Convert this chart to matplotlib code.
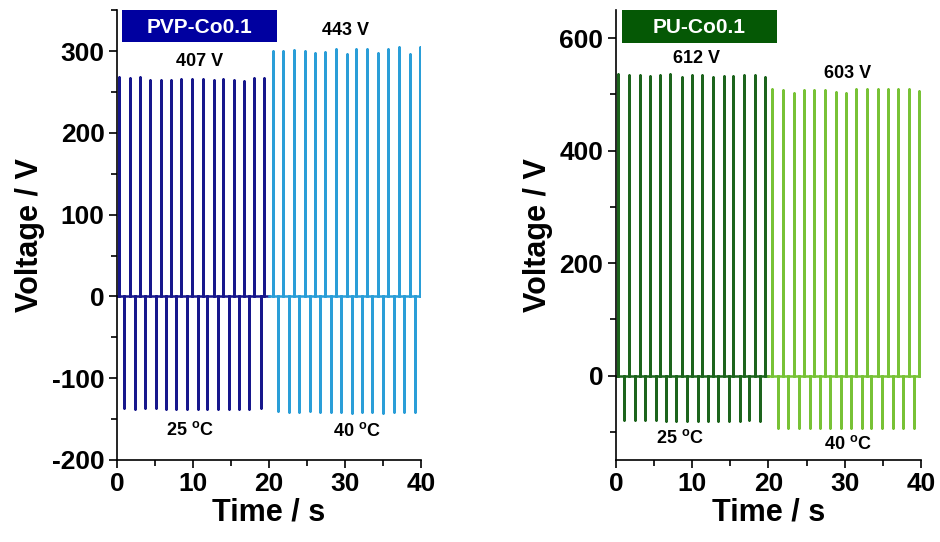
import numpy as np
import matplotlib.pyplot as plt
from matplotlib.patches import Rectangle
from matplotlib.ticker import MultipleLocator

plt.rcParams['font.family'] = ['Liberation Sans', 'DejaVu Sans']
plt.rcParams['font.weight'] = 'bold'
plt.rcParams['mathtext.fontset'] = 'custom'
plt.rcParams['mathtext.rm'] = 'Liberation Sans:bold'
plt.rcParams['mathtext.default'] = 'rm'
plt.rcParams['axes.unicode_minus'] = False

# ---- PVP-Co0.1 (left) ----
pvp25_pos_t = [0.3, 1.7, 3.0, 4.4, 5.75, 7.1, 8.4, 9.9, 11.3, 12.7, 14.0, 15.4, 16.7, 18.0, 19.4]
pvp25_pos_v = [268, 267, 268, 265, 265, 265, 266, 266, 266, 264, 266, 264, 263, 267, 267]
pvp25_neg_t = [0.9, 2.4, 3.7, 5.1, 6.4, 7.8, 9.2, 10.6, 11.9, 13.3, 14.7, 16.1, 17.4, 18.9]
pvp25_neg_v = [-137, -138, -137, -137, -138, -138, -138, -138, -138, -138, -138, -138, -138, -136]

pvp40_pos_t = [20.5, 21.9, 23.3, 24.7, 26.1, 27.4, 28.8, 30.2, 31.5, 32.9, 34.3, 35.7, 37.1, 38.5, 39.9]
pvp40_pos_v = [300, 300, 301, 300, 297, 299, 302, 296, 302, 303, 297, 302, 305, 296, 305]
pvp40_neg_t = [21.2, 22.6, 24.0, 25.4, 26.7, 28.1, 29.5, 30.9, 32.2, 33.6, 35.0, 36.4, 37.8, 39.2]
pvp40_neg_v = [-140, -141, -141, -140, -141, -141, -141, -142, -141, -141, -142, -141, -141, -141]

# ---- PU-Co0.1 (right) ----
pu25_pos_t = [0.3, 1.7, 3.1, 4.5, 5.8, 7.1, 8.6, 10.0, 11.3, 12.7, 14.1, 15.4, 16.8, 18.2, 19.6]
pu25_pos_v = [536, 535, 534, 532, 535, 536, 531, 534, 534, 531, 533, 533, 535, 534, 531]
pu25_neg_t = [1.1, 2.5, 3.8, 5.2, 6.5, 7.9, 9.3, 10.7, 12.1, 13.4, 14.8, 16.2, 17.5, 18.9]
pu25_neg_v = [-78, -79, -79, -79, -80, -80, -80, -81, -81, -80, -80, -80, -79, -80]

pu40_pos_t = [20.5, 21.9, 23.3, 24.7, 26.0, 27.4, 28.8, 30.2, 31.5, 32.9, 34.3, 35.7, 37.0, 38.4, 39.8]
pu40_pos_v = [509, 508, 503, 508, 508, 508, 504, 503, 509, 509, 509, 509, 509, 509, 507]
pu40_neg_t = [21.2, 22.6, 24.0, 25.4, 26.7, 28.1, 29.5, 30.8, 32.2, 33.5, 34.9, 36.3, 37.7, 39.1]
pu40_neg_v = [-93, -93, -93, -93, -93, -93, -93, -93, -93, -93, -93, -93, -93, -93]


def waveform(t0, t1, pos_t, pos_v, neg_t, neg_v):
    # zero baseline with vertical spikes at the read-off times
    events = sorted(list(zip(pos_t, pos_v)) + list(zip(neg_t, neg_v)))
    t, v = [t0], [0]
    for ti, vi in events:
        t += [ti, ti, ti]
        v += [0, vi, 0]
    t.append(t1)
    v.append(0)
    return np.array(t), np.array(v)


fig = plt.figure(figsize=(9.4, 5.42), dpi=100)
ax1 = fig.add_axes([0.1245, 0.1513, 0.3234, 0.830])
ax2 = fig.add_axes([0.6553, 0.1513, 0.3245, 0.830])


def style(ax, ymin, ymax, ymaj, ymin_step):
    ax.set_xlim(0, 40)
    ax.set_ylim(ymin, ymax)
    ax.spines['top'].set_visible(False)
    ax.spines['right'].set_visible(False)
    for s in ('left', 'bottom'):
        ax.spines[s].set_linewidth(1.2)
    ax.xaxis.set_major_locator(MultipleLocator(10))
    ax.xaxis.set_minor_locator(MultipleLocator(5))
    ax.yaxis.set_major_locator(MultipleLocator(ymaj))
    ax.yaxis.set_minor_locator(MultipleLocator(ymin_step))
    ax.tick_params(which='major', direction='out', length=6, width=1.2, labelsize=19, pad=3)
    ax.tick_params(which='minor', direction='out', length=4, width=1.2)
    for lab in ax.get_xticklabels() + ax.get_yticklabels():
        lab.set_fontweight('bold')
    ax.set_xlabel('Time / s', fontsize=22, fontweight='bold', labelpad=1)
    ax.set_ylabel('Voltage / V', fontsize=22, fontweight='bold', labelpad=5)


# left panel
t, v = waveform(0, 20.0, pvp25_pos_t, pvp25_pos_v, pvp25_neg_t, pvp25_neg_v)
ax1.plot(t, v, color='#17178c', lw=1.8)
t, v = waveform(20.0, 40.0, pvp40_pos_t, pvp40_pos_v, pvp40_neg_t, pvp40_neg_v)
ax1.plot(t, v, color='#2a9ed8', lw=1.8)
style(ax1, -200, 350, 100, 50)
ax1.add_patch(Rectangle((0.016, 0.929), 0.51, 0.071, transform=ax1.transAxes,
                        facecolor='#0000a0', edgecolor='none', clip_on=False))
ax1.text(0.271, 0.962, 'PVP-Co0.1', transform=ax1.transAxes, color='white',
         fontsize=15, fontweight='bold', ha='center', va='center')
ax1.text(10.9, 287, '407 V', fontsize=13, ha='center', va='center')
ax1.text(30.0, 325, '443 V', fontsize=13, ha='center', va='center')
ax1.text(9.6, -163, '25 $^{o}$C', fontsize=13, ha='center', va='center')
ax1.text(31.6, -165, '40 $^{o}$C', fontsize=13, ha='center', va='center')

# right panel
t, v = waveform(0, 20.0, pu25_pos_t, pu25_pos_v, pu25_neg_t, pu25_neg_v)
ax2.plot(t, v, color='#1d641d', lw=1.8)
t, v = waveform(20.0, 40.1, pu40_pos_t, pu40_pos_v, pu40_neg_t, pu40_neg_v)
ax2.plot(t, v, color='#78c236', lw=1.8)
style(ax2, -150, 650, 200, 100)
ax2.add_patch(Rectangle((0.02, 0.927), 0.508, 0.073, transform=ax2.transAxes,
                        facecolor='#055805', edgecolor='none', clip_on=False))
ax2.text(0.274, 0.962, 'PU-Co0.1', transform=ax2.transAxes, color='white',
         fontsize=15, fontweight='bold', ha='center', va='center')
ax2.text(10.6, 564, '612 V', fontsize=13, ha='center', va='center')
ax2.text(30.4, 538, '603 V', fontsize=13, ha='center', va='center')
ax2.text(8.4, -110, '25 $^{o}$C', fontsize=13, ha='center', va='center')
ax2.text(30.4, -121, '40 $^{o}$C', fontsize=13, ha='center', va='center')

fig.savefig('out.png', dpi=100)
